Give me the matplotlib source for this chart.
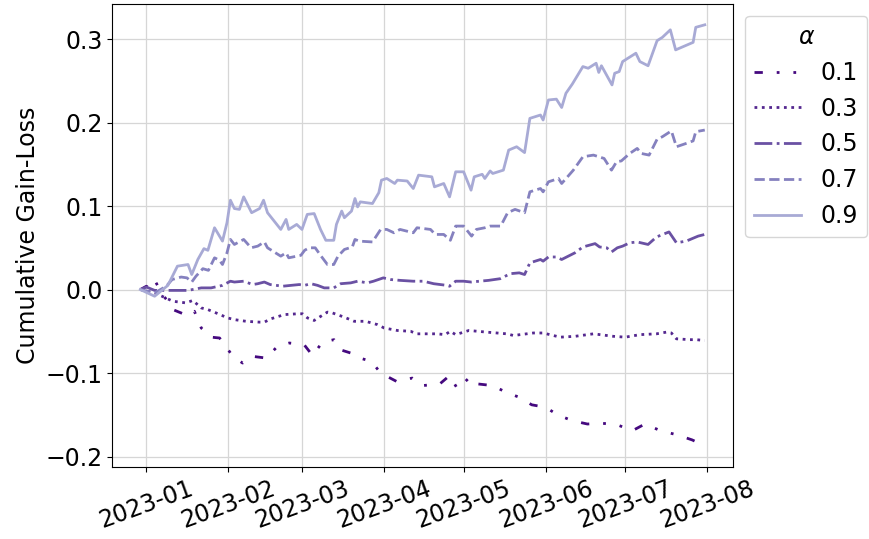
import pandas as pd
import matplotlib
matplotlib.use("Agg")
import matplotlib.pyplot as plt

# day offsets from 2023-01-01 and cumulative gain-loss for each alpha
days_01 = [-2, 0.3, 2, 3.8, 6, 9.7, 10.3, 15.7, 18.4, 21, 24.7, 27.9, 30.7, 32.9, 36.6, 40.4, 45.4, 49.8,
           54.2, 59.8, 63, 66.7, 71.1, 73.4, 77.4, 79.7, 85.2, 88.7, 94.7, 100.6, 104.5, 111, 114.7, 117.7,
           122.3, 125.3, 131, 136, 141, 145.7, 151, 155.4, 161, 166.7, 172, 178, 183.7, 188.4, 194.3,
           200.6, 206.2, 211]
gain_01 = [0, 0.004, 0.0, 0.009, -0.004, -0.020, -0.024, -0.031, -0.026, -0.046, -0.057, -0.058, -0.070,
           -0.080, -0.088, -0.080, -0.082, -0.068, -0.064, -0.066, -0.079, -0.063, -0.060, -0.072, -0.076,
           -0.081, -0.086, -0.100, -0.110, -0.106, -0.115, -0.113, -0.103, -0.119, -0.105, -0.113, -0.115,
           -0.123, -0.129, -0.138, -0.141, -0.150, -0.157, -0.161, -0.160, -0.162, -0.169, -0.161, -0.169,
           -0.174, -0.180, -0.187]

days_03 = [-2, 3.4, 10.3, 15.3, 17.8, 21, 23.5, 26.6, 31, 33.5, 37.9, 42.9, 44.8, 47.3, 52.3, 57.3, 59.2,
           61.1, 63.6, 66.1, 68.6, 70.5, 74.9, 78.7, 83, 87.5, 90, 95, 100, 102.4, 110, 113, 115, 117, 122,
           128.8, 136.3, 138.8, 146.3, 150, 156.4, 162, 169, 176.5, 181, 186.5, 192.8, 196.5, 198.4, 200.3,
           205.3, 207.8, 211]
gain_03 = [0, -0.004, -0.014, -0.016, -0.013, -0.022, -0.024, -0.028, -0.034, -0.036, -0.038, -0.039,
           -0.039, -0.035, -0.030, -0.029, -0.029, -0.034, -0.037, -0.032, -0.027, -0.028, -0.033, -0.038,
           -0.038, -0.042, -0.046, -0.049, -0.050, -0.053, -0.053, -0.054, -0.050, -0.054, -0.049, -0.051,
           -0.053, -0.055, -0.052, -0.052, -0.057, -0.056, -0.053, -0.056, -0.057, -0.054, -0.053, -0.051,
           -0.052, -0.059, -0.060, -0.060, -0.061]

days_05 = [-2, 0.3, 3.4, 8.4, 16, 21, 24.7, 29, 32, 33.5, 37, 40.4, 42.3, 44.8, 47, 51.7, 54.8, 58, 59.9,
           62.4, 64.9, 67.4, 71, 73.6, 77.4, 80, 83.7, 86, 89.7, 92.5, 96, 101, 104.8, 108.7, 113.7, 114.7,
           117, 120, 122.8, 126, 129.4, 133.8, 137.6, 141, 143, 145, 149, 150, 152, 155, 157, 162, 165,
           169.6, 171.3, 174, 175.8, 178, 180, 182.7, 185.5, 189.6, 192.8, 197.5, 200.3, 204, 208.5, 211]
gain_05 = [0, 0.003, -0.001, -0.001, -0.001, 0.002, 0.002, 0.005, 0.010, 0.009, 0.010, 0.006, 0.007, 0.009,
           0.006, 0.004, 0.005, 0.006, 0.005, 0.007, 0.005, 0.002, 0.002, 0.007, 0.008, 0.010, 0.008, 0.010,
           0.014, 0.012, 0.011, 0.010, 0.010, 0.007, 0.005, 0.004, 0.010, 0.010, 0.009, 0.010, 0.011, 0.013,
           0.019, 0.020, 0.018, 0.032, 0.036, 0.034, 0.039, 0.039, 0.036, 0.044, 0.051, 0.055, 0.051, 0.050,
           0.045, 0.050, 0.052, 0.056, 0.057, 0.054, 0.063, 0.069, 0.056, 0.058, 0.064, 0.066]

days_07 = [-2, 3.4, 7.8, 10, 13.4, 15.6, 17.4, 19, 21.6, 23.7, 26, 27.9, 29, 30.7, 32, 33.5, 37, 39.8, 42.3,
           44.8, 46, 51, 53, 54, 58.6, 60, 61.7, 64, 66, 68.6, 71, 72.6, 75, 78, 79, 80.6, 85.6, 88.7, 91,
           93.7, 96, 101, 102.4, 107.5, 109.3, 112.5, 115, 117, 120, 123, 124.8, 128, 130, 134, 136.6, 139.4,
           143, 145, 149, 150, 152, 155.8, 157, 161.4, 165, 169, 171, 173, 175.8, 177.7, 179.5, 182.7, 185.5,
           187, 190, 193, 195, 198.4, 200.3, 204, 206.6, 207.6, 211]
gain_07 = [0, -0.004, 0.004, 0.012, 0.015, 0.014, 0.009, 0.016, 0.025, 0.023, 0.038, 0.035, 0.030, 0.044,
           0.060, 0.054, 0.060, 0.050, 0.052, 0.057, 0.050, 0.040, 0.044, 0.038, 0.041, 0.047, 0.050, 0.050,
           0.041, 0.030, 0.030, 0.040, 0.048, 0.051, 0.060, 0.058, 0.057, 0.072, 0.072, 0.068, 0.072, 0.068,
           0.074, 0.072, 0.066, 0.066, 0.059, 0.076, 0.076, 0.064, 0.072, 0.074, 0.076, 0.076, 0.092, 0.096,
           0.092, 0.117, 0.121, 0.117, 0.129, 0.133, 0.127, 0.143, 0.159, 0.161, 0.159, 0.157, 0.143, 0.153,
           0.154, 0.163, 0.169, 0.163, 0.161, 0.180, 0.183, 0.190, 0.171, 0.175, 0.178, 0.189, 0.191]

days_09 = [-2, 3.4, 8.4, 12, 16, 17.4, 19.7, 22, 23.5, 26, 29, 30.7, 32, 33.5, 35.4, 37, 40, 43, 44.5, 46,
           51, 53, 54, 57, 59, 61, 63.6, 66, 68, 71, 72, 74, 75, 77.7, 79, 80, 81, 85.6, 88, 89, 91, 94, 95,
           98.7, 101, 103, 108, 109, 112.5, 114.7, 117, 120, 122.8, 124, 127, 128, 130, 131, 135, 137, 140,
           143, 145, 149, 150, 152, 155, 157, 158.6, 161, 165, 167, 170, 171, 172, 176, 177, 178.7, 180, 185,
           186.5, 189.6, 193, 195, 198, 200, 206.6, 207.6, 211]
gain_09 = [0, -0.008, 0.005, 0.028, 0.030, 0.018, 0.036, 0.049, 0.047, 0.074, 0.058, 0.080, 0.107, 0.097,
           0.096, 0.111, 0.092, 0.097, 0.107, 0.092, 0.072, 0.084, 0.072, 0.078, 0.072, 0.090, 0.091, 0.072,
           0.059, 0.059, 0.078, 0.094, 0.086, 0.094, 0.109, 0.099, 0.105, 0.103, 0.116, 0.131, 0.133, 0.127,
           0.131, 0.130, 0.121, 0.137, 0.135, 0.123, 0.127, 0.111, 0.141, 0.141, 0.119, 0.135, 0.138, 0.133,
           0.142, 0.139, 0.143, 0.167, 0.171, 0.164, 0.205, 0.209, 0.203, 0.227, 0.228, 0.218, 0.235, 0.246,
           0.267, 0.265, 0.271, 0.260, 0.268, 0.245, 0.259, 0.261, 0.273, 0.283, 0.273, 0.268, 0.298, 0.302,
           0.311, 0.287, 0.296, 0.314, 0.317]

alphas = ["0.1", "0.3", "0.5", "0.7", "0.9"]
series = [(days_01, gain_01), (days_03, gain_03), (days_05, gain_05), (days_07, gain_07), (days_09, gain_09)]

colors = ["#45097f", "#54278f", "#6a51a3", "#8581bf", "#a8aad5"]
styles = [(0, (3, 5, 1, 5, 1, 5)), ":", "-.", "--", "-"]

start = pd.Timestamp("2023-01-01")

plt.rcParams["font.size"] = 17

fig = plt.figure(figsize=(8.69, 5.39), dpi=100)
ax = fig.add_axes([0.129, 0.134, 0.7145, 0.859])

for a, (days, gain), c, ls in zip(alphas, series, colors, styles):
    dates = start + pd.to_timedelta(days, unit="D")
    ax.plot(dates, gain, color=c, linestyle=ls, linewidth=2, label=a)

ax.grid(True, color="#d6d6d6", linewidth=0.9)
ax.set_axisbelow(True)
ax.set_ylabel("Cumulative Gain-Loss")
ax.set_yticks([-0.2, -0.1, 0.0, 0.1, 0.2, 0.3])

ticks = pd.date_range("2023-01-01", "2023-08-01", freq="MS")
ax.set_xticks(ticks)
ax.set_xticklabels([t.strftime("%Y-%m") for t in ticks], rotation=20)

ax.legend(title=r"$\alpha$", loc="upper left", bbox_to_anchor=(1.0, 1.0), fontsize=17, title_fontsize=17)

fig.savefig("out.png", dpi=100)
